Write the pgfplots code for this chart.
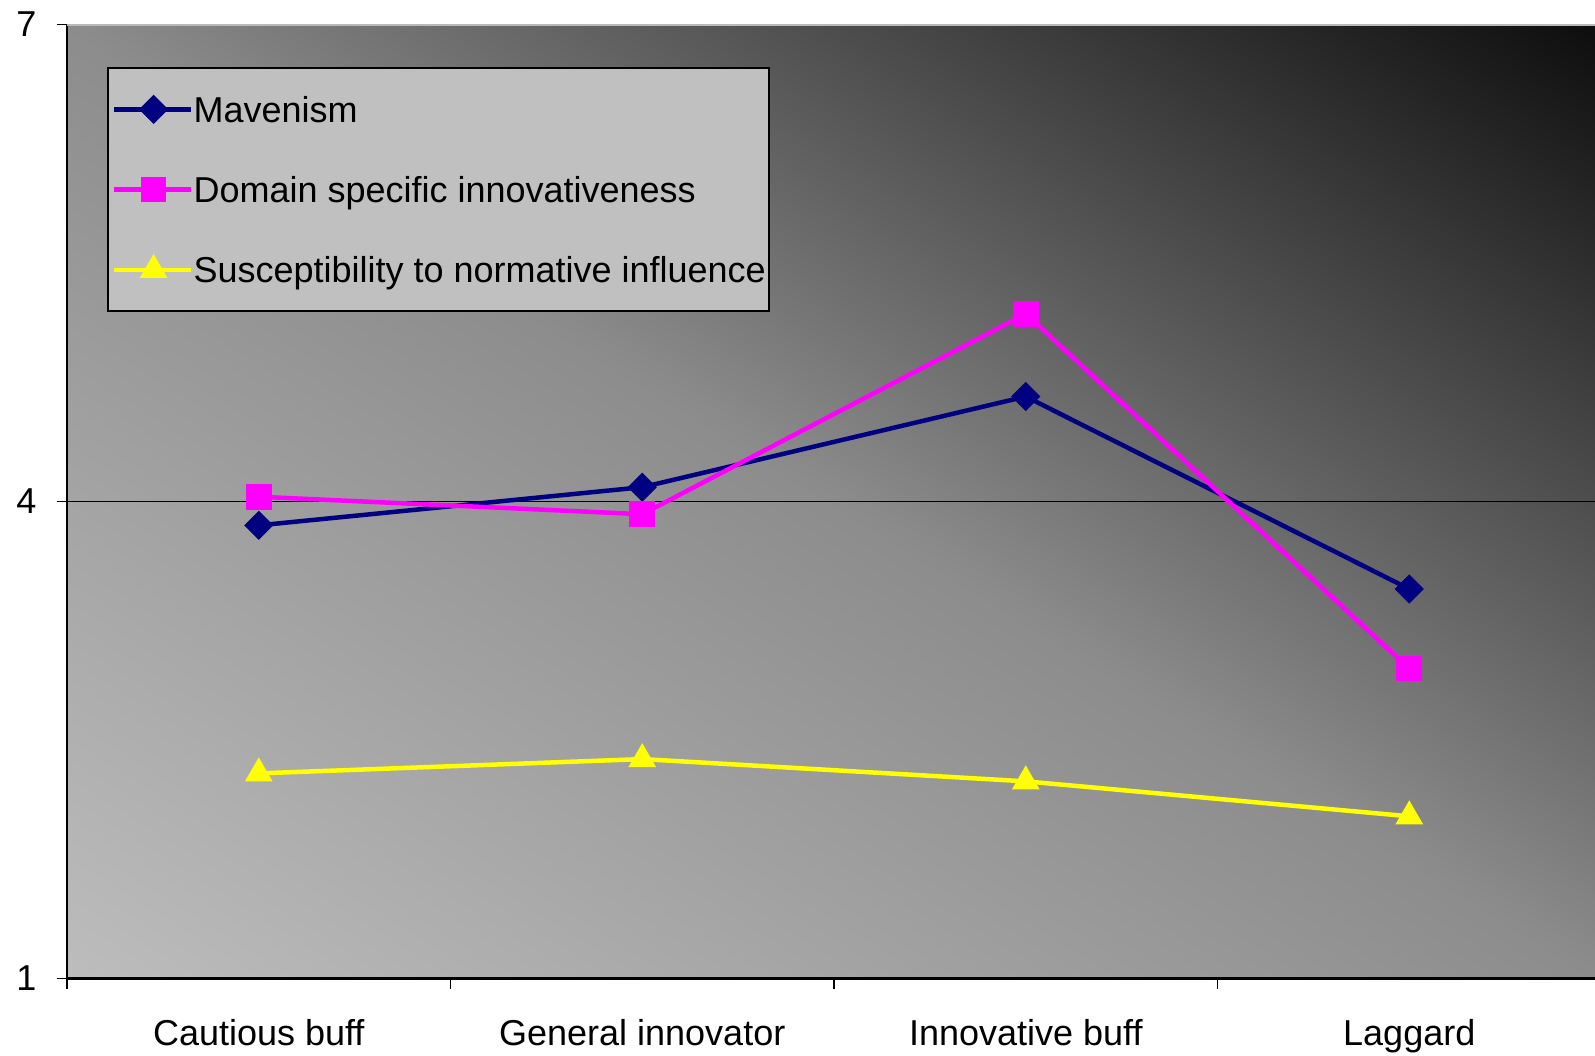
\documentclass[border=0pt]{standalone}
\usepackage{fontspec}
\setmainfont{Liberation Sans}
\usepackage{pgfplots}
\pgfplotsset{compat=1.18}
\usetikzlibrary{shadings}

\definecolor{mav}{RGB}{0,0,128}
\definecolor{dom}{RGB}{255,0,255}
\definecolor{sus}{RGB}{255,255,0}
\definecolor{legbg}{RGB}{192,192,192}

\pgfdeclarefunctionalshading{bgshade}{\pgfpoint{0bp}{0bp}}{\pgfpoint{100bp}{100bp}}{}{
  add 50 sub 100 div
  dup 0.5 lt {-0.38 mul 0.74 add} {0.5 sub -1.0 mul 0.55 add} ifelse
  dup dup
}

\begin{document}
\begin{tikzpicture}
\begin{axis}[
  at={(20.1pt,22.95pt)}, anchor=south west,
  scale only axis, width=460.2pt, height=286.2pt,
  xmin=0, xmax=4, ymin=1, ymax=7,
  axis x line*=bottom, axis y line*=left,
  x axis line style={black, line width=0.9pt},
  y axis line style={black, line width=0.7pt},
  tick align=outside, major tick length=3pt,
  tick style={black, line width=0.5pt},
  xtick={0,1,2,3,4}, x tick label as interval,
  xticklabels={Cautious buff, General innovator, Innovative buff, Laggard},
  ytick={1,4,7},
  extra y ticks={4}, extra y tick labels={},
  extra y tick style={grid=major, major tick length=0pt},
  major grid style={black, line width=0.5pt},
  axis background/.style={shading=bgshade},
  ticklabel style={font=\fontsize{10.8}{13}\selectfont, inner sep=0pt},
  xticklabel style={yshift=-9pt},
  yticklabel style={xshift=-6pt},
  /pgf/number format/assume math mode=true,
  legend style={at={(0.0261,0.9553)}, anchor=north west, draw=black, line width=0.6pt,
    fill=legbg, inner xsep=1pt, inner ysep=7.2pt, row sep=13.8pt,
    font=\fontsize{10.8}{13}\selectfont,
    nodes={inner sep=0pt, text height=9pt, text depth=1.3pt}},
  legend cell align=left,
  legend image code/.code={\draw[mark repeat=2,mark phase=2] plot coordinates {(0pt,0pt) (9.3pt,0pt) (18.6pt,0pt)}; \path (-2.7pt,0pt) -- (20.6pt,0pt);},
]
\addplot[color=mav, line width=1.35pt, mark=square*, mark size=2.85pt, mark options={rotate=45, solid, line width=0.5pt}]
  coordinates {(0.5,3.85) (1.5,4.09) (2.5,4.66) (3.5,3.45)};
\addlegendentry{Mavenism}
\addplot[color=dom, line width=1.35pt, mark=square*, mark size=3.6pt, mark options={solid, line width=0.5pt}]
  coordinates {(0.5,4.03) (1.5,3.92) (2.5,5.18) (3.5,2.95)};
\addlegendentry{Domain specific innovativeness}
\addplot[color=sus, line width=1.35pt, mark=triangle*, mark size=4.3pt, mark options={solid, line width=0.5pt}]
  coordinates {(0.5,2.29) (1.5,2.38) (2.5,2.24) (3.5,2.02)};
\addlegendentry{Susceptibility to normative influence}
\draw[gray!55!white, line width=0.8pt] (rel axis cs:0,1) -- (rel axis cs:1,1);
\end{axis}
\pgfresetboundingbox
\useasboundingbox (0,0) rectangle (478.5pt,316.5pt);
\end{tikzpicture}
\end{document}
